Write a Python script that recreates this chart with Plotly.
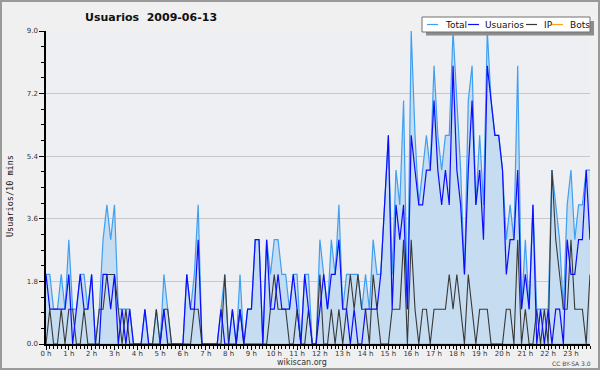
import plotly.graph_objects as go

# ---- data (one value per 10-minute slot, 6 slots per hour) ----
hour_labels = [f"{h} h" for h in range(24)]
slot_index = list(range(144))
hour_ticks = list(range(0, 144, 6))

total = [
    2, 2, 1, 1, 2, 1,   3, 1, 1, 2, 2, 1,   2, 0, 1, 3, 4, 3,   4, 1, 1, 1, 1, 0,
    0, 0, 1, 0, 0, 1,   0, 2, 1, 0, 0, 0,   0, 2, 1, 2, 4, 0,   0, 0, 0, 0, 1, 2,
    0, 1, 0, 2, 0, 1,   1, 3, 3, 0, 3, 2,   3, 3, 2, 2, 1, 2,   2, 0, 2, 2, 0, 0,
    3, 2, 1, 3, 2, 4,   1, 2, 2, 2, 2, 1,   2, 1, 3, 2, 2, 4,   6, 2, 5, 4, 7, 1,
    9, 6, 4, 5, 6, 5,   8, 6, 5, 6, 6, 9,   7, 5, 2, 7, 8, 4,   6, 4, 9, 7, 6, 6,
    5, 3, 4, 3, 8, 1,   3, 1, 4, 1, 1, 1,   1, 5, 4, 3, 1, 4,   5, 3, 4, 4, 5, 5,
]
usuarios = [
    2, 1, 1, 1, 1, 1,   2, 0, 1, 2, 1, 1,   2, 0, 0, 2, 2, 1,   2, 0, 1, 0, 1, 0,
    0, 0, 1, 0, 0, 0,   0, 1, 0, 0, 0, 0,   0, 2, 1, 1, 3, 0,   0, 0, 0, 0, 1, 0,
    0, 1, 0, 1, 0, 1,   1, 3, 3, 0, 3, 1,   1, 2, 1, 1, 1, 2,   1, 0, 2, 1, 0, 0,
    1, 2, 1, 2, 2, 3,   1, 1, 0, 1, 0, 0,   1, 1, 1, 1, 2, 4,   6, 1, 4, 3, 4, 1,
    6, 5, 4, 4, 5, 5,   7, 5, 4, 5, 4, 8,   5, 4, 2, 5, 7, 4,   5, 3, 8, 7, 6, 6,
    5, 2, 3, 3, 5, 1,   2, 1, 4, 0, 1, 0,   1, 0, 1, 1, 0, 3,   2, 2, 3, 3, 5, 3,
]
ip = [
    0, 1, 0, 0, 1, 0,   1, 1, 0, 0, 1, 0,   0, 0, 1, 1, 2, 2,   2, 1, 0, 1, 0, 0,
    0, 0, 0, 0, 0, 1,   0, 1, 1, 0, 0, 0,   0, 0, 0, 1, 1, 0,   0, 0, 0, 0, 0, 2,
    0, 0, 0, 1, 0, 0,   0, 0, 0, 0, 0, 1,   2, 1, 1, 1, 0, 0,   1, 0, 0, 1, 0, 0,
    2, 0, 0, 1, 0, 1,   0, 1, 2, 1, 2, 1,   1, 0, 2, 1, 0, 0,   0, 1, 1, 1, 3, 0,
    3, 1, 0, 1, 1, 0,   1, 1, 1, 1, 2, 1,   2, 1, 0, 2, 1, 0,   1, 1, 1, 0, 0, 0,
    0, 1, 1, 0, 3, 0,   1, 0, 0, 1, 0, 1,   0, 5, 3, 2, 1, 1,   3, 1, 1, 1, 0, 2,
]
bots = [
    0, 0, 0, 0, 0, 0,   0, 0, 0, 0, 0, 0,   0, 0, 0, 0, 0, 0,   0, 0, 0, 0, 0, 0,
    0, 0, 0, 0, 0, 0,   0, 0, 0, 0, 0, 0,   0, 0, 0, 0, 0, 0,   0, 0, 0, 0, 0, 0,
    0, 0, 0, 0, 0, 0,   0, 0, 0, 0, 0, 0,   0, 0, 0, 0, 0, 0,   0, 0, 0, 0, 0, 0,
    0, 0, 0, 0, 0, 0,   0, 0, 0, 0, 0, 0,   0, 0, 0, 0, 0, 0,   0, 0, 0, 0, 0, 0,
    0, 0, 0, 0, 0, 0,   0, 0, 0, 0, 0, 0,   0, 0, 0, 0, 0, 0,   0, 0, 0, 0, 0, 0,
    0, 0, 0, 0, 0, 0,   0, 0, 0, 0, 0, 0,   0, 0, 0, 0, 0, 0,   0, 0, 0, 0, 0, 0,
]
series_names = ["Total", "Usuarios", "IP", "Bots"]
y_ticks = [0.0, 1.8, 3.6, 5.4, 7.2, 9.0]

# ---- style ----
C_TOTAL = "#3f9ff0"
C_FILL = "#c6dcf0"
C_USER = "#0c0cff"
C_IP = "#383838"
C_BOTS = "#ffa31a"
FONT = "DejaVu Sans"

W, H = 600, 370
L, R, T, B = 46, 590, 31, 344


def px(x):
    return (x - L) / (R - L)


def py(y):
    return (B - y) / (B - T)


fig = go.Figure()
fig.add_trace(go.Scatter(x=slot_index, y=total, mode="lines", name=series_names[0],
                         line=dict(color=C_TOTAL, width=1.2), fill="tozeroy",
                         fillcolor=C_FILL, showlegend=False))
fig.add_trace(go.Scatter(x=slot_index, y=bots, mode="lines", name=series_names[3],
                         line=dict(color=C_BOTS, width=1), showlegend=False))
fig.add_trace(go.Scatter(x=slot_index, y=ip, mode="lines", name=series_names[2],
                         line=dict(color=C_IP, width=1.1), showlegend=False))
fig.add_trace(go.Scatter(x=slot_index, y=usuarios, mode="lines", name=series_names[1],
                         line=dict(color=C_USER, width=1.2), showlegend=False))

shapes = [
    # outer frame
    dict(type="rect", xref="paper", yref="paper", x0=px(1), x1=px(599), y0=py(369), y1=py(1),
         line=dict(color="#9a9a9a", width=2), fillcolor="rgba(0,0,0,0)", layer="above"),
    # legend shadow and box
    dict(type="rect", xref="paper", yref="paper", x0=px(426), x1=px(594), y0=py(35.5), y1=py(21),
         line=dict(width=0), fillcolor="#8c8c8c", layer="above"),
    dict(type="rect", xref="paper", yref="paper", x0=px(422), x1=px(590), y0=py(32), y1=py(17),
         line=dict(color="#707070", width=1), fillcolor="#ffffff", layer="above"),
]
legend_items = [(series_names[0], C_TOTAL, 427, 443), (series_names[1], C_USER, 468, 483),
                (series_names[2], C_IP, 526, 542), (series_names[3], C_BOTS, 552, 568)]
annotations = []
for name, col, lx, tx in legend_items:
    shapes.append(dict(type="line", xref="paper", yref="paper", x0=px(lx), x1=px(lx + 11),
                       y0=py(24.5), y1=py(24.5), line=dict(color=col, width=1.2), layer="above"))
    annotations.append(dict(text=name, xref="paper", yref="paper", x=px(tx), y=py(24.8),
                            xanchor="left", yanchor="middle", showarrow=False,
                            font=dict(family=FONT, size=9, color="#111111")))

annotations += [
    dict(text="<b>Usuarios  2009-06-13</b>", xref="paper", yref="paper", x=px(151), y=py(17),
         xanchor="center", yanchor="middle", showarrow=False,
         font=dict(family=FONT, size=11, color="#111111")),
    dict(text="Usuarios/10 mins", xref="paper", yref="paper", x=px(10), y=py(196),
         xanchor="center", yanchor="middle", showarrow=False, textangle=-90,
         font=dict(family="DejaVu Sans Mono", size=8.5, color="#111111")),
    dict(text="wikiscan.org", xref="paper", yref="paper", x=px(302), y=py(362.5),
         xanchor="center", yanchor="middle", showarrow=False,
         font=dict(family=FONT, size=8, color="#333333")),
    dict(text="CC BY-SA 3.0", xref="paper", yref="paper", x=px(571), y=py(363),
         xanchor="center", yanchor="middle", showarrow=False,
         font=dict(family=FONT, size=6, color="#444444")),
]

fig.update_layout(
    width=W, height=H,
    margin=dict(l=L, r=W - R, t=T, b=H - B, pad=0),
    paper_bgcolor="#f0f0f0",
    plot_bgcolor="#eeeff2",
    showlegend=False,
    shapes=shapes,
    annotations=annotations,
    xaxis=dict(range=[0, 143], tickvals=hour_ticks, ticktext=hour_labels,
               showgrid=False, zeroline=False, showline=True, linecolor="#000000",
               linewidth=2, ticks="outside", ticklen=4, tickcolor="#000000", tickwidth=1,
               ticklabelstandoff=-2,
               tickfont=dict(family=FONT, size=7, color="#333333"),
               minor=dict(dtick=1, tick0=0, ticks="outside", ticklen=3, tickcolor="#000000",
                          showgrid=False),
               fixedrange=True),
    yaxis=dict(range=[0, 9], tickvals=y_ticks, tickformat=".1f",
               showgrid=True, gridcolor="#c8c8c8", gridwidth=1,
               zeroline=False, showline=True, linecolor="#000000", linewidth=1.5,
               ticks="outside", ticklen=5, tickcolor="#000000", tickwidth=1,
               tickfont=dict(family=FONT, size=7, color="#333333"),
               minor=dict(dtick=0.45, tick0=0, ticks="outside", ticklen=3,
                          tickcolor="#000000", showgrid=False),
               fixedrange=True),
)

fig.write_html(
    "out.html",
    config={"displayModeBar": False},
    post_script="document.body.style.margin='0';document.body.style.overflow='hidden';",
)
